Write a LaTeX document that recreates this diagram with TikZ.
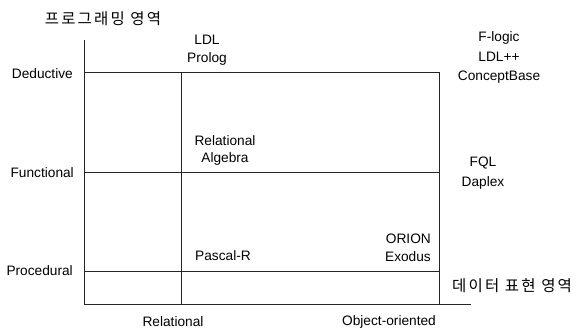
\documentclass[tikz,border=0pt]{standalone}
\usepackage{fontspec}
\setmainfont{Liberation Sans}
\newfontfamily\krfont[LetterSpace=14]{Noto Sans CJK KR}
\begin{document}
\begin{tikzpicture}[x=1pt,y=-1pt,
  gridline/.style={draw=black!85,line width=0.8pt},
  lbl/.style={inner sep=0pt,font=\fontsize{13.7}{18.5}\selectfont,align=center},
  kr/.style={inner sep=0pt,font=\krfont\fontsize{15.5}{17}\selectfont}]
\useasboundingbox (0,0) rectangle (577,333);
% frame coordinates
\coordinate (axtop) at (84,40);
\coordinate (o) at (84,304);
\coordinate (bend) at (471,304);
\coordinate (d0) at (84,72);  \coordinate (d1) at (439,72);
\coordinate (f0) at (84,172); \coordinate (f1) at (439,172);
\coordinate (p0) at (84,271); \coordinate (p1) at (439,271);
\coordinate (m0) at (181,72); \coordinate (m1) at (181,304);
\coordinate (r1) at (439,304);
% lines
\draw[gridline] (axtop) -- (o) -- (bend);
\draw[gridline] (d0) -- (d1) -- (r1);
\draw[gridline] (f0) -- (f1);
\draw[gridline] (p0) -- (p1);
\draw[gridline] (m0) -- (m1);
% axis titles
\node[kr] (ytitle) at (103,19) {프로그래밍 영역};
\node[kr,anchor=west] (xtitle) at (452,286) {데이터 표현 영역};
% y labels
\node[lbl,anchor=east] (ded) at (73,74) {Deductive};
\node[lbl,anchor=east] (fun) at (74,173) {Functional};
\node[lbl,anchor=east] (pro) at (73,271) {Procedural};
% x labels
\node[lbl] (rel) at (173,322) {Relational};
\node[lbl] (oo) at (389,322) {Object-oriented};
% cell contents
\node[lbl,font=\fontsize{13.7}{18}\selectfont] (ldl) at (207,50) {LDL\\Prolog};
\node[lbl,font=\fontsize{13.7}{17}\selectfont] (ra) at (225,150.5) {Relational\\Algebra};
\node[lbl] (pas) at (223,256) {Pascal-R};
\node[lbl,font=\fontsize{13.7}{19.5}\selectfont] (fl) at (499,57.5) {F-logic\\LDL++\\ConceptBase};
\node[lbl,font=\fontsize{13.7}{20}\selectfont] (fql) at (483,173) {FQL\\Daplex};
\node[lbl,align=right,anchor=east,font=\fontsize{13.7}{18}\selectfont] (ori) at (431,248) {ORION\\Exodus};
\end{tikzpicture}
\end{document}
